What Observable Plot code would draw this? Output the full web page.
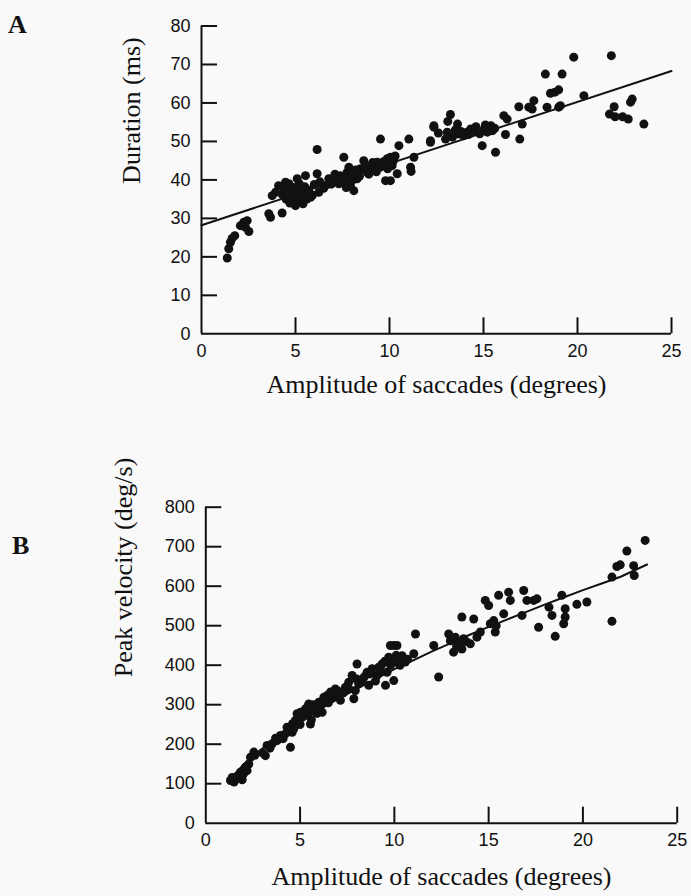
<!DOCTYPE html>
<html>
<head>
<meta charset="utf-8">
<script src="https://cdn.jsdelivr.net/npm/d3@7"></script>
<script src="https://cdn.jsdelivr.net/npm/@observablehq/plot@0.6"></script>
<style>
  html, body { margin: 0; padding: 0; background: #f9f9f9; }
  #page { position: relative; width: 691px; height: 896px; overflow: hidden; background: #f9f9f9; color: #111; }
  .panel { position: absolute; left: 0; }
  .letter { position: absolute; font-family: "Liberation Serif", "DejaVu Serif", serif; font-weight: bold; font-size: 26px; line-height: 1; color: #111; }
</style>
</head>
<body>
<div id="page">
  <div class="letter" id="letterA" style="left:8px; top:12px;">A</div>
  <div class="letter" id="letterB" style="left:12px; top:533px;">B</div>
  <div class="panel" id="panelA" style="top:0px;"></div>
  <div class="panel" id="panelB" style="top:460px;"></div>
</div>
<script>
// ---------- data ----------
const xTickValues = [0, 5, 10, 15, 20, 25];
const durationTicks = [0, 10, 20, 30, 40, 50, 60, 70, 80];
const velocityTicks = [0, 100, 200, 300, 400, 500, 600, 700, 800];

const xAxisLabel = "Amplitude of saccades (degrees)";
const durationLabel = "Duration (ms)";
const velocityLabel = "Peak velocity (deg/s)";

// Panel A: amplitude (deg) vs duration (ms)
const durationPoints = [
  [1.37,19.7],[1.45,22.1],[1.54,23.8],[1.63,24.8],[1.77,25.5],[2.07,28.1],[2.25,29.0],[2.43,29.4],[2.52,26.6],[2.34,27.7],
  [3.58,31.2],[3.67,30.3],[4.29,31.4],[3.76,35.9],[3.94,36.8],[4.38,37.7],[4.47,39.4],[4.65,39.0],[4.73,36.8],[4.82,35.1],
  [5.09,35.5],[5.27,38.1],[5.35,34.2],[5.62,36.4],[5.09,40.3],[5.53,41.1],[5.0,33.3],[5.18,37.2],[5.44,35.9],[5.80,35.5],
  [6.15,41.6],[6.15,47.9],[6.24,36.8],[6.60,38.5],[6.77,40.3],[7.04,39.8],[7.22,40.3],[7.39,41.1],[7.57,45.9],[7.57,39.4],
  [7.75,41.1],[7.84,43.3],[7.92,38.5],[8.1,37.2],[8.01,39.8],[7.75,42.0],[8.28,40.3],[8.46,42.9],[8.63,45.0],[8.81,42.0],
  [8.99,43.7],[9.17,42.9],[9.34,44.6],[9.52,50.6],[9.61,43.7],[9.79,39.8],[10.05,39.8],[9.88,45.5],[10.05,45.9],[10.14,43.7],
  [10.41,41.6],[10.5,48.9],[11.03,50.6],[11.12,43.3],[11.15,42.2],[11.3,45.9],[12.18,49.8],[12.36,53.7],
  [12.36,54.1],[12.18,50.2],[13.24,57.0],[13.07,52.4],[12.98,50.6],[13.35,51.1],[13.62,54.5],[13.71,51.9],[13.95,51.5],[14.13,52.4],
  [14.31,53.2],[14.49,52.8],[15.04,53.2],[15.21,52.4],[15.39,54.1],[15.48,52.8],[14.93,48.9],[15.64,47.2],[16.08,56.7],[16.26,55.8],
  [16.17,51.8],[16.88,59.0],[17.06,54.5],[16.93,50.6],[17.41,58.9],[17.68,60.6],[17.59,58.4],[18.29,67.5],[18.38,58.9],[18.56,62.5],
  [19.0,63.4],[18.8,62.8],[19.18,67.5],[19.09,59.3],[19.0,58.9],[19.8,71.9],[20.34,61.9],[21.8,72.3],[21.7,57.1],[21.95,59.0],
  [22.0,56.4],[22.4,56.4],[22.7,55.8],[22.82,60.2],[22.91,61.0],[23.53,54.5],
  [4.1,38.5],[4.3,36.2],[4.5,35.0],[4.6,37.5],[4.7,34.0],[4.9,38.0],[5.0,36.0],[5.1,34.5],[5.2,39.0],[5.3,36.9],
  [5.4,33.8],[5.5,38.2],[5.6,35.0],[5.7,37.3],[5.9,36.0],[6.0,38.8],[6.3,39.5],[6.5,37.8],[6.9,38.9],[7.1,41.5],
  [7.3,39.0],[7.5,40.8],[7.7,38.0],[8.0,41.8],[8.2,42.6],[8.4,40.9],[8.7,43.5],[8.9,41.5],[9.1,44.5],[9.3,42.1],
  [9.5,43.3],[9.7,44.8],[9.9,42.9],[10.2,44.9],[10.3,46.2],[13.5,53.0],[13.8,52.6],[14.2,51.8],[14.6,53.8],[14.8,52.0],
  [15.1,54.3],[15.6,53.4],[12.6,52.2],[13.1,55.2]
];
const durationFitAmp = [0, 25];
const durationFitMs = [28.2, 68.3];

// Panel B: amplitude (deg) vs peak velocity (deg/s)
const velocityPoints = [
  [1.31,108],[1.40,116],[1.57,112],[1.75,121],[1.93,110],[1.84,129],[2.10,142],[2.28,150],[2.37,167],[2.19,133],
  [2.55,180],[3.16,171],[3.25,197],[3.52,201],[3.78,209],[3.96,222],[4.22,226],[4.31,243],[4.49,192],[4.58,230],
  [4.67,239],[4.75,260],[4.84,277],[5.02,281],[5.11,268],[5.28,289],[5.37,273],[5.46,302],[5.55,251],[5.64,285],
  [5.82,294],[5.99,306],[6.17,281],[6.26,319],[6.43,323],[6.61,332],[6.70,319],[6.87,340],[6.96,323],[7.14,311],
  [7.40,344],[7.58,357],[7.76,374],[7.85,315],[7.93,336],[8.02,403],[8.11,353],[8.29,361],[8.55,382],[8.64,349],
  [8.82,391],[9.08,374],[9.17,395],[9.35,403],[9.53,349],[9.61,382],[9.70,420],[9.79,450],[9.97,450],[9.97,361],
  [10.14,450],[10.05,408],[10.23,416],[10.41,424],[10.58,408],[11.03,429],[11.12,479],[12.09,450],[12.35,370],
  [12.88,479],[12.97,462],[13.14,433],[13.23,471],[13.40,454],[13.58,441],[13.67,467],[13.58,522],[14.03,454],[14.21,517],
  [14.38,471],[14.56,484],[14.82,564],[15.0,551],[15.09,505],[15.27,513],[15.35,484],[15.53,577],[15.8,530],[16.06,585],
  [16.15,564],[16.77,526],[16.86,589],[17.03,564],[17.39,564],[17.56,568],[17.65,496],[18.2,547],[18.36,526],[18.53,473],
  [18.88,577],[18.98,505],[19.06,522],[19.06,543],[19.68,554],[20.21,560],[21.54,511],[21.54,623],[21.8,650],[21.98,654],
  [22.33,689],[22.69,652],[22.72,627],[23.3,716],
  [1.5,104],[1.7,118],[2.0,125],[2.6,172],[3.0,178],[3.4,190],[3.7,215],[4.1,214],[4.4,237],[4.6,252],
  [4.9,262],[5.0,250],[5.2,275],[5.4,295],[5.6,262],[5.7,300],[5.9,278],[6.1,300],[6.3,310],[6.5,305],
  [6.8,330],[7.0,335],[7.3,330],[7.6,340],[8.0,365],[8.4,370],[8.7,378],[9.0,360],[9.3,385],[9.5,410],
  [9.8,400],[10.1,425],[10.3,400],[10.7,415],[13.3,448],[13.8,460],[15.4,500]
];
const velocityFitAmp = [1.3, 2, 3, 4, 5, 6, 7, 8, 9, 10, 11, 12, 13, 14, 15, 16, 17, 18, 19, 20, 21, 22, 23.4];
const velocityFitDeg = [113, 148, 189, 225, 257, 287, 314, 340, 365, 390, 412, 435, 456, 477, 497, 516, 535, 554, 572, 590, 607, 624, 655];

// ---------- drawing ----------
const ink = "#111";
const serif = "'Liberation Serif', 'Times New Roman', serif";
const sans = "'Liberation Sans', Arial, sans-serif";

function panel({width, height, marginLeft, marginRight, marginTop, marginBottom, yDomain, yTicks, points, fitX, fitY, yLabel, xLabelDy, yLabelDx, yLabelDy}) {
  const frameW = width - marginLeft - marginRight;
  const frameH = height - marginTop - marginBottom;
  const pts = points.map(([x, y]) => ({x, y}));
  const fit = fitX.map((x, i) => ({x, y: fitY[i]}));
  return Plot.plot({
    width, height, marginLeft, marginRight, marginTop, marginBottom,
    style: {background: "transparent", color: ink, fontFamily: sans, fontSize: "18px", overflow: "visible"},
    x: {domain: [0, 25], ticks: xTickValues, tickSize: 0, tickPadding: 10, label: null},
    y: {domain: yDomain, ticks: yTicks, tickSize: 0, tickPadding: 11, label: null},
    marks: [
      // axis lines
      Plot.ruleY([yDomain[0]], {stroke: ink, strokeWidth: 2}),
      Plot.ruleX([0], {y1: yDomain[0], y2: yDomain[1], stroke: ink, strokeWidth: 2}),
      // inward ticks
      Plot.ruleY(yTicks.slice(1), {stroke: ink, strokeWidth: 2, insetRight: frameW - 16}),
      Plot.ruleX(xTickValues.slice(1), {stroke: ink, strokeWidth: 2, insetTop: frameH - 16}),
      // fitted line
      Plot.line(fit, {x: "x", y: "y", stroke: ink, strokeWidth: 2}),
      // data
      Plot.dot(pts, {x: "x", y: "y", r: 4.5, fill: ink, stroke: "none"}),
      // axis titles
      Plot.text([xAxisLabel], {frameAnchor: "bottom", dy: xLabelDy, text: d => d, fontFamily: serif, fontSize: 26, fill: ink}),
      Plot.text([yLabel], {frameAnchor: "left", dx: yLabelDx, dy: yLabelDy, rotate: -90, text: d => d, fontFamily: serif, fontSize: 26, fill: ink})
    ]
  });
}

document.getElementById("panelA").append(panel({
  width: 691, height: 420, marginLeft: 201, marginRight: 20, marginTop: 25.5, marginBottom: 86.7,
  yDomain: [0, 80], yTicks: durationTicks, points: durationPoints,
  fitX: durationFitAmp, fitY: durationFitMs, yLabel: durationLabel,
  xLabelDy: 59, yLabelDx: -70, yLabelDy: 4
}));

document.getElementById("panelB").append(panel({
  width: 691, height: 436, marginLeft: 205.3, marginRight: 14.3, marginTop: 46.7, marginBottom: 73.3,
  yDomain: [0, 800], yTicks: velocityTicks, points: velocityPoints,
  fitX: velocityFitAmp, fitY: velocityFitDeg, yLabel: velocityLabel,
  xLabelDy: 62, yLabelDx: -82, yLabelDy: 12
}));
</script>
</body>
</html>
